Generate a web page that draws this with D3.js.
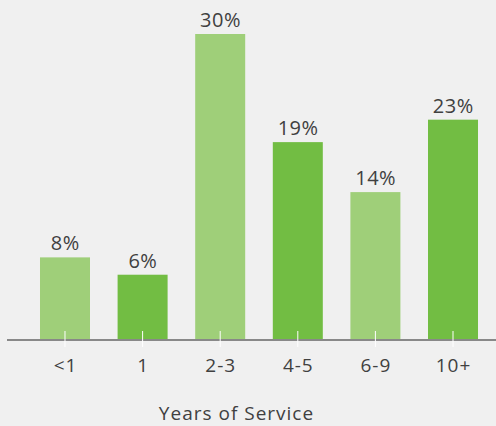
<!DOCTYPE html>
<html><head><meta charset="utf-8">
<script src="https://cdn.jsdelivr.net/npm/d3@7"></script>
<style>html,body{margin:0;padding:0;background:#f0f0f0;}svg{display:block;}</style>
</head><body>
<svg id="c" width="496" height="426"></svg>
<script>
const categories = ["<1", "1", "2-3", "4-5", "6-9", "10+"];
const values = [8.1, 6.4, 30, 19.4, 14.5, 21.6];
const valueLabels = ["8%", "6%", "30%", "19%", "14%", "23%"];
const colors = ["#9fcf79", "#72bd43"];
const xTitle = "Years of Service";

const svg = d3.select("#c");
const W = 496, H = 426;
svg.append("rect").attr("width", W).attr("height", H).attr("fill", "#f0f0f0");

const baseY = 340;
const x = d3.scaleBand().domain(categories).range([26.2, 491.8]).paddingInner(0.3557).paddingOuter(0.1778);
const y = d3.scaleLinear().domain([0, 30]).range([baseY, 34]);

const font = "'Open Sans', sans-serif";

svg.selectAll("rect.bar").data(values).enter().append("rect")
  .attr("class", "bar")
  .attr("x", (d, i) => x(categories[i]))
  .attr("width", x.bandwidth())
  .attr("y", d => y(d))
  .attr("height", d => baseY - y(d))
  .attr("fill", (d, i) => colors[i % 2]);

svg.selectAll("text.val").data(values).enter().append("text")
  .attr("class", "val")
  .attr("x", (d, i) => x(categories[i]) + x.bandwidth() / 2 + 0.3)
  .attr("y", d => y(d) - 7)
  .attr("text-anchor", "middle")
  .attr("font-family", font).attr("font-size", 20).attr("letter-spacing", 0.5).attr("fill", "#404040")
  .text((d, i) => valueLabels[i]);

// axis line
svg.append("line").attr("x1", 7).attr("x2", W).attr("y1", baseY).attr("y2", baseY)
  .attr("stroke", "#888").attr("stroke-width", 2);

const ax = svg.append("g").attr("transform", `translate(0,${baseY})`)
  .call(d3.axisBottom(x).tickSize(0).tickPadding(0));
ax.select(".domain").remove();
ax.selectAll(".tick line").remove();
ax.selectAll(".tick").append("line")
  .attr("y1", -9).attr("y2", 7).attr("stroke", "#fff").attr("stroke-width", 1);
ax.selectAll(".tick text")
  .attr("y", 32).attr("dy", 0).attr("x", 0.5)
  .attr("font-family", font).attr("font-size", 19).attr("letter-spacing", 1).attr("fill", "#404040");

svg.append("text").attr("x", 236.5).attr("y", 420).attr("text-anchor", "middle")
  .attr("font-family", font).attr("font-size", 19).attr("letter-spacing", 1).attr("fill", "#404040")
  .text(xTitle);
</script>
</body></html>
